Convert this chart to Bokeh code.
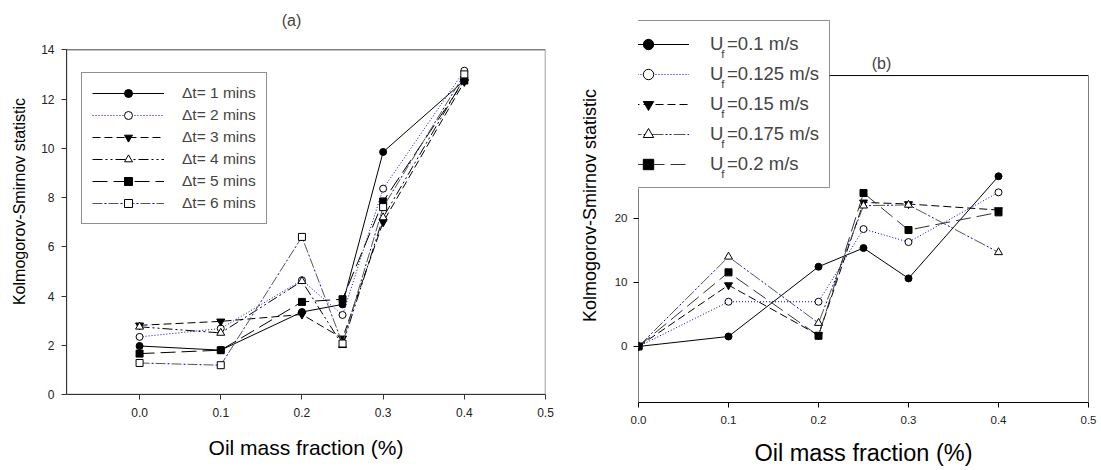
from bokeh.plotting import figure
from bokeh.layouts import row
from bokeh.models import (Legend, LegendItem, Label, FixedTicker, Range1d,
                          PrintfTickFormatter, BoxAnnotation)
from bokeh.embed import file_html
from bokeh.resources import INLINE

FONT = "Liberation Sans"

# ---------------- data ----------------
X = [0.0, 0.1, 0.2, 0.25, 0.3, 0.4]
X_TICKS = [0.0, 0.1, 0.2, 0.3, 0.4, 0.5]

A_NAMES = ["Δt= 1 mins", "Δt= 2 mins", "Δt= 3 mins", "Δt= 4 mins", "Δt= 5 mins", "Δt= 6 mins"]
A1 = [1.97, 1.80, 3.35, 3.66, 9.85, 12.75]
A2 = [2.34, 2.68, 4.64, 3.23, 8.36, 13.15]
A3 = [2.81, 2.97, 3.25, 2.28, 7.00, 12.70]
A4 = [2.75, 2.50, 4.60, 2.00, 7.19, 12.85]
A5 = [1.66, 1.80, 3.76, 3.87, 7.84, 12.75]
A6 = [1.28, 1.19, 6.40, 2.07, 7.61, 13.00]
A_YTICKS = [0, 2, 4, 6, 8, 10, 12, 14]

B_NAMES = ["0.1 m/s", "0.125 m/s", "0.15 m/s", "0.175 m/s", "0.2 m/s"]
B1 = [0.0, 1.56, 12.45, 15.37, 10.63, 26.57]
B2 = [0.0, 6.98, 6.98, 18.33, 16.30, 24.06]
B3 = [0.0, 9.58, 1.77, 22.50, 22.24, 21.30]
B4 = [0.0, 14.00, 3.65, 21.98, 22.10, 14.70]
B5 = [0.0, 11.57, 1.67, 23.96, 18.18, 20.94]
B_YTICKS = [0, 10, 20]

# ---------------- styles ----------------
BLUE = "#0000cc"
S_SOLID = {"lines": [("black", "solid", 0)], "marker": "circle", "fill": "black", "size": 7}
S_DOT = {"lines": [(BLUE, "1 2", 0)], "marker": "circle", "fill": "white", "size": 7}
S_DASH = {"lines": [("black", "8 4", 0)], "marker": "inverted_triangle", "fill": "black", "size": 8}
S_DDD = {"lines": [("black", "10 3 2 3 2 3", 0)], "marker": "triangle", "fill": "white", "size": 8}
S_DDD_B = {"lines": [("#555555", "12 10", 0), (BLUE, "2 2 2 16", 8)], "marker": "triangle", "fill": "white", "size": 8}
S_LONG = {"lines": [("black", "15 6", 0)], "marker": "square", "fill": "black", "size": 7}
S_LONG_B = {"lines": [("#333333", "15 6", 0)], "marker": "square", "fill": "black", "size": 7}
S_DD_B = {"lines": [("#555555", "10 6", 0), (BLUE, "2 14", 4)], "marker": "square", "fill": "white", "size": 7}

A_STYLES = [S_SOLID, S_DOT, S_DASH, S_DDD, S_LONG, S_DD_B]
B_STYLES = [S_SOLID, S_DOT, S_DASH, S_DDD_B, S_LONG_B]

H = 470


def add_series(p, ys, st):
    rs = []
    for color, dash, off in st["lines"]:
        rs.append(p.line(X, ys, line_color=color, line_width=1, line_dash=dash, line_dash_offset=off))
    rs.append(p.scatter(X, ys, marker=st["marker"], size=st["size"], fill_color=st["fill"],
                        line_color="black", line_width=1))
    return rs


def style_axes(p, axis_col, ytick_list, tick_size, xlab_size, ylab_size,
               xstand, ystand, xlab_stand, ylab_stand, ybounds):
    for ax in (p.xaxis[0], p.yaxis[0]):
        ax.axis_line_color = axis_col
        ax.major_tick_line_color = axis_col
        ax.major_tick_out = 5
        ax.major_tick_in = 0
        ax.minor_tick_line_color = None
        ax.major_label_text_font = FONT
        ax.major_label_text_font_size = tick_size
        ax.major_label_text_color = "#222222"
        ax.axis_label_text_font = FONT
        ax.axis_label_text_font_style = "normal"
        ax.axis_label_text_color = "black"
    p.xaxis[0].ticker = FixedTicker(ticks=X_TICKS)
    p.xaxis[0].formatter = PrintfTickFormatter(format="%.1f")
    p.yaxis[0].ticker = FixedTicker(ticks=ytick_list)
    p.yaxis[0].bounds = ybounds
    p.xaxis[0].axis_label = "Oil mass fraction (%)"
    p.yaxis[0].axis_label = "Kolmogorov-Smirnov statistic"
    p.xaxis[0].axis_label_text_font_size = xlab_size
    p.yaxis[0].axis_label_text_font_size = ylab_size
    p.xaxis[0].major_label_standoff = xstand
    p.yaxis[0].major_label_standoff = ystand
    p.xaxis[0].axis_label_standoff = xlab_stand
    p.yaxis[0].axis_label_standoff = ylab_stand
    p.xgrid.visible = False
    p.ygrid.visible = False
    p.outline_line_color = None


# ---------------- panel (a) ----------------
A_XR = (-0.09, 0.5)
A_BOX_TOP = 14.0
A_YR = (0.0, 15.676)          # frame extends above the drawn box so the caption fits
A_L, A_R, A_T, A_B = 66, 545, 8, 394   # frame edges in canvas px
WA = 570

pa = figure(width=WA, height=H, x_range=Range1d(*A_XR), y_range=Range1d(*A_YR),
            output_backend="svg", toolbar_location=None,
            min_border_left=A_L, min_border_right=WA - A_R, min_border_top=A_T,
            min_border_bottom=H - A_B)
pa.frame_align = False
style_axes(pa, "#333333", A_YTICKS, "12px", "21px", "16px", 8, 7, 16, 10, (A_YR[0], A_BOX_TOP))
pa.add_layout(BoxAnnotation(left=A_XR[0], right=A_XR[1], bottom=A_YR[0], top=A_BOX_TOP,
                            fill_color=None, fill_alpha=0, line_color="#808080",
                            line_alpha=1, line_width=1.5, level="underlay"))


def a_data(sx, sy):
    dx = A_XR[0] + (sx - A_L) * (A_XR[1] - A_XR[0]) / (A_R - A_L)
    dy = A_YR[0] + (A_B - sy) * (A_YR[1] - A_YR[0]) / (A_B - A_T)
    return dx, dy


a_items = []
for name, ys, st in zip(A_NAMES, [A1, A2, A3, A4, A5, A6], A_STYLES):
    a_items.append(LegendItem(label=name, renderers=add_series(pa, ys, st)))

leg_a = Legend(items=a_items, location=(15, 170), padding=10, spacing=2, margin=0,
               title_standoff=0,
               glyph_width=72, glyph_height=20, label_height=20, label_standoff=18,
               label_text_font=FONT, label_text_font_size="15.5px",
               border_line_color="#222222", border_line_width=1,
               background_fill_color="white", background_fill_alpha=1.0)
pa.add_layout(leg_a)
tx, ty = a_data(291, 20)
pa.add_layout(Label(x=tx, y=ty, text="(a)", text_font=FONT, text_font_size="16px",
                    text_align="center", text_baseline="middle"))

# ---------------- panel (b) ----------------
B_XR = (0.0, 0.5)
B_BOX_TOP = 42.3
B_YR = (-8.75, 52.77)
WB = 1101 - WA
B_L, B_R, B_T, B_B = 638 - WA, 1088 - WA, 8, 402

pb = figure(width=WB, height=H, x_range=Range1d(*B_XR), y_range=Range1d(*B_YR),
            output_backend="svg", toolbar_location=None,
            min_border_left=B_L, min_border_right=WB - B_R, min_border_top=B_T,
            min_border_bottom=H - B_B)
pb.frame_align = False
style_axes(pb, "black", B_YTICKS, "11.5px", "23.5px", "18px", 8, 6, 13, 12, (B_YR[0], B_BOX_TOP))
pb.yaxis[0].axis_line_color = None   # drawn below as part of the frame lines


def b_data(sx, sy):
    dx = B_XR[0] + (sx - B_L) * (B_XR[1] - B_XR[0]) / (B_R - B_L)
    dy = B_YR[0] + (B_B - sy) * (B_YR[1] - B_YR[0]) / (B_B - B_T)
    return dx, dy


b_items = []
for name, ys, st in zip(B_NAMES, [B1, B2, B3, B4, B5], B_STYLES):
    b_items.append(LegendItem(label="U\u2009=" + name, renderers=add_series(pb, ys, st)))

LB_VX, LB_VY, LB_PAD, LB_GW, LB_GH, LB_SP, LB_ST, LB_FS = -42, 214, 10, 82, 26, 4, 21, 18.5
n_b = len(B_NAMES)
leg_h = 2 * LB_PAD + n_b * LB_GH + (n_b - 1) * LB_SP
leg_top = B_B - LB_VY - leg_h
leg_bottom = B_B - LB_VY
leg_right = B_L + LB_VX + 233

# frame lines of panel (b): the parts that the legend box does not cover
_, y_leg_bottom = b_data(0, leg_bottom)
x_leg_right, _ = b_data(leg_right, 0)
pb.line([x_leg_right, B_XR[1], B_XR[1]], [B_BOX_TOP, B_BOX_TOP, B_YR[0]],
        line_color="black", line_width=1)
pb.line([B_XR[0], B_XR[0]], [B_YR[0], y_leg_bottom], line_color="black", line_width=1)

leg_b = Legend(items=b_items, location=(LB_VX, LB_VY), padding=LB_PAD, spacing=LB_SP, margin=0,
               title_standoff=0,
               glyph_width=LB_GW, glyph_height=LB_GH, label_height=LB_GH, label_standoff=LB_ST,
               label_text_font=FONT, label_text_font_size=f"{LB_FS}px",
               border_line_color="#222222", border_line_width=1,
               background_fill_color="white", background_fill_alpha=0.0)
pb.add_layout(leg_b)

for k in range(n_b):
    cy = leg_top + LB_PAD + LB_GH / 2 + k * (LB_GH + LB_SP)
    sx = B_L + LB_VX + LB_PAD + LB_GW + LB_ST + 0.722 * LB_FS - 1.5
    fx, fy = b_data(sx, cy + 8)
    pb.add_layout(Label(x=fx, y=fy, text="f", text_font=FONT, text_font_size="11.5px",
                        text_align="left", text_baseline="middle", level="overlay"))

tx, ty = b_data(881 - WA, 63)
pb.add_layout(Label(x=tx, y=ty, text="(b)", text_font=FONT, text_font_size="16px",
                    text_align="center", text_baseline="middle"))

layout = row(pa, pb)
open("out.html", "w").write(file_html(layout, INLINE))
